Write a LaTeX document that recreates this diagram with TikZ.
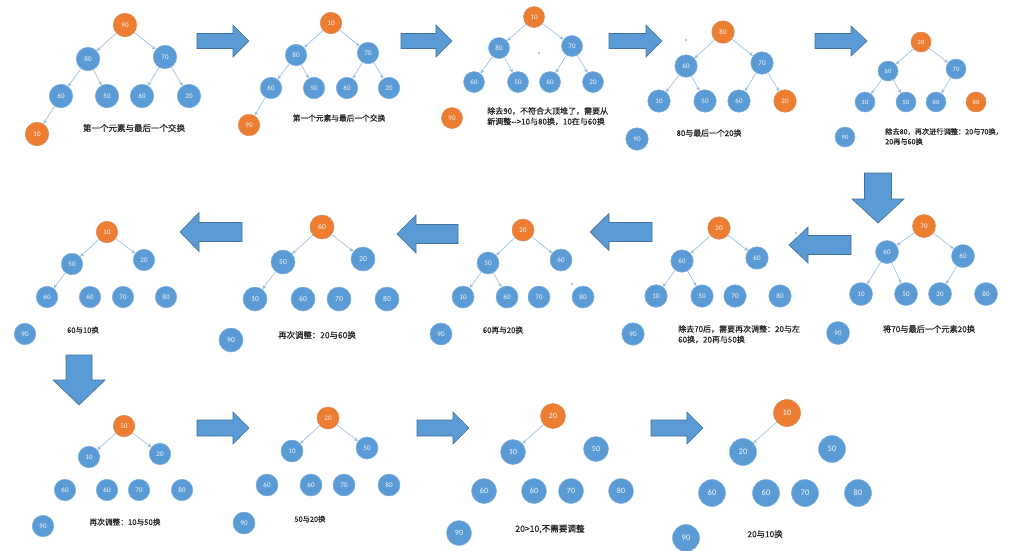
\documentclass[tikz,border=0pt]{standalone}
\usepackage{fontspec}
\newfontfamily\numf{Carlito}
\newfontfamily\cjk[FakeBold=0.8]{Noto Sans CJK SC}
\usetikzlibrary{arrows.meta}
\definecolor{nblue}{HTML}{5B9BD5}
\definecolor{nbedge}{HTML}{7FB0DE}
\definecolor{norange}{HTML}{ED7D31}
\definecolor{noedge}{HTML}{D98A5A}
\definecolor{eblue}{HTML}{94BDE5}
\definecolor{abedge}{HTML}{41719C}
\tikzset{
  nd/.style={circle, fill=nblue, draw=nbedge, line width=0.5pt, text=white!92!nblue,
    inner sep=0pt, minimum size=22pt, font=\numf\fontsize{7}{8}\selectfont},
  od/.style={nd, fill=norange, draw=noedge},
  dsz/.style={nd/.append style={minimum size=#1}},
  dfont/.style={nd/.append style={font=\numf\fontsize{#1}{#1}\selectfont}},
  ed/.style={draw=eblue, line width=0.6pt, -{Stealth[length=4pt,width=3.6pt]}},
  lbl/.style={font=\cjk\fontsize{#1}{12}\selectfont, text=black!85, inner sep=0pt},
  lbl/.default=8,
  bigarr/.style={fill=nblue, draw=abedge, line width=0.6pt},
}
\newcommand\barw[7]{%
  \draw[bigarr, shift={(#1,#2)}, rotate=#3] (0,-#6) -- ({#4-#5},-#6) -- ({#4-#5},-#7) -- (#4,0) -- ({#4-#5},#7) -- ({#4-#5},#6) -- (0,#6) -- cycle;}
\begin{document}
\begin{tikzpicture}[x=1pt,y=-1pt]
\useasboundingbox (0,0) rectangle (1024,550);
\fill[white] (0,0) rectangle (1024,550);

% ---------- block arrows ----------
\barw{197}{41}{0}{52}{16}{7.5}{16}
\barw{401}{41}{0}{51}{16}{7.5}{16}
\barw{609}{41}{0}{53}{16}{7.5}{16}
\barw{815}{41}{0}{52}{16}{7.5}{15}
\barw{878}{173}{-90}{50}{24}{13.5}{26}
\barw{851}{245}{180}{62}{19}{9.5}{18}
\barw{652}{232}{180}{62}{19}{9.5}{18.5}
\barw{458}{234}{180}{61}{19}{9.5}{19}
\barw{242}{232}{180}{62}{19}{9.5}{19.5}
\barw{79}{355}{-90}{50}{25}{13}{26}
\barw{197}{428}{0}{52}{16}{8}{16}
\barw{417}{428}{0}{52}{16}{8}{16}
\barw{651}{428}{0}{52}{16}{8}{16}

% stray dots
\fill (539,53) circle (0.7);
\fill (686,40) circle (0.7);
\fill (796,233) circle (0.7);
\fill (572,284) circle (0.7);

% ---------- panel 1 ----------
\begin{scope}[dsz=23.5pt]
\node[od] (p1a) at (125,25) {90};
\node[nd] (p1b) at (88,59) {80};
\node[nd] (p1c) at (165,57) {70};
\node[nd] (p1d) at (61,96) {60};
\node[nd] (p1e) at (107,96) {50};
\node[nd] (p1f) at (142,96) {60};
\node[nd] (p1g) at (189,96) {20};
\node[od] (p1h) at (37,134) {10};
\node[lbl=8.5] (p1t) at (134,128) {第一个元素与最后一个交换};
\foreach \u/\v in {a/b,a/c,b/d,b/e,c/f,c/g,d/h} \draw[ed] (p1\u) -- (p1\v);
\end{scope}

% ---------- panel 2 ----------
\begin{scope}[dsz=21.5pt]
\node[od] (p2a) at (331,23) {10};
\node[nd] (p2b) at (296,55) {80};
\node[nd] (p2c) at (368,53) {70};
\node[nd] (p2d) at (271,88) {60};
\node[nd] (p2e) at (314,88) {50};
\node[nd] (p2f) at (347,88) {60};
\node[nd] (p2g) at (389,88) {20};
\node[od] (p2h) at (249,125) {90};
\node[lbl=7.7] (p2t) at (339,118) {第一个元素与最后一个交换};
\foreach \u/\v in {a/b,a/c,b/d,b/e,c/f,c/g,d/h} \draw[ed] (p2\u) -- (p2\v);
\end{scope}

% ---------- panel 3 ----------
\begin{scope}[dsz=21pt]
\node[od] (p3a) at (534,17) {10};
\node[nd] (p3b) at (499,48) {80};
\node[nd] (p3c) at (572,46) {70};
\node[nd] (p3d) at (474,82) {60};
\node[nd] (p3e) at (518,82) {50};
\node[nd] (p3f) at (550,82) {60};
\node[nd] (p3g) at (593,82) {20};
\node[od] (p3h) at (452,118) {90};
\node[lbl, anchor=north west, align=left, font=\cjk\fontsize{8}{10.5}\selectfont] (p3t) at (487,107)
  {除去90，不符合大顶堆了，需要从\\新调整-->10与80换，10在与60换};
\foreach \u/\v in {a/b,a/c,b/d,b/e,c/f,c/g} \draw[ed] (p3\u) -- (p3\v);
\end{scope}

% ---------- panel 4 ----------
\begin{scope}[dsz=22.5pt]
\node[od] (p4a) at (723,32) {80};
\node[nd] (p4b) at (686,66) {60};
\node[nd] (p4c) at (762,63) {70};
\node[nd] (p4d) at (659,101) {10};
\node[nd] (p4e) at (705,101) {50};
\node[nd] (p4f) at (739,101) {60};
\node[od] (p4g) at (785,101) {20};
\node[nd] (p4h) at (637,139) {90};
\node[lbl=7.9] (p4t) at (709,133) {80与最后一个20换};
\foreach \u/\v in {a/b,a/c,b/d,b/e,c/f,c/g} \draw[ed] (p4\u) -- (p4\v);
\end{scope}

% ---------- panel 5 ----------
\begin{scope}[dsz=20pt, dfont=6.5]
\node[od] (p5a) at (921,42) {20};
\node[nd] (p5b) at (888,71) {60};
\node[nd] (p5c) at (956,69) {70};
\node[nd] (p5d) at (865,102) {10};
\node[nd] (p5e) at (906,102) {50};
\node[nd] (p5f) at (936,102) {60};
\node[od] (p5g) at (976,102) {80};
\node[nd] (p5h) at (845,137) {90};
\node[lbl, anchor=north west, align=left, font=\cjk\fontsize{7.2}{10}\selectfont] (p5t) at (885,128)
  {除去80，再次进行调整：20与70换，\\20再与60换};
\foreach \u/\v in {a/b,a/c,b/d,b/e,c/f} \draw[ed] (p5\u) -- (p5\v);
\end{scope}

% ---------- panel 6 ----------
\begin{scope}[dsz=23pt]
\node[od] (p6a) at (924,226) {70};
\node[nd] (p6b) at (887,252) {60};
\node[nd] (p6c) at (963,256) {60};
\node[nd] (p6d) at (861,294) {10};
\node[nd] (p6e) at (906,294) {50};
\node[nd] (p6f) at (940,294) {20};
\node[nd] (p6g) at (986,294) {80};
\node[nd] (p6h) at (838,333) {90};
\node[lbl=8.2] (p6t) at (929,329) {将70与最后一个元素20换};
\foreach \u/\v in {a/b,a/c,b/d,b/e,c/f} \draw[ed] (p6\u) -- (p6\v);
\end{scope}

% ---------- panel 7 ----------
\begin{scope}[dsz=22.5pt]
\node[od] (p7a) at (719,228) {20};
\node[nd] (p7b) at (682,261) {60};
\node[nd] (p7c) at (757,258) {60};
\node[nd] (p7d) at (656,296) {10};
\node[nd] (p7e) at (702,296) {50};
\node[nd] (p7f) at (735,296) {70};
\node[nd] (p7g) at (780,296) {80};
\node[nd] (p7h) at (633,334) {90};
\node[lbl, anchor=north west, align=left, font=\cjk\fontsize{8}{10.5}\selectfont] (p7t) at (678,325)
  {除去70后，需要再次调整：20与左\\60换，20再与50换};
\foreach \u/\v in {a/b,a/c,b/d,b/e} \draw[ed] (p7\u) -- (p7\v);
\end{scope}

% ---------- panel 8 ----------
\begin{scope}[dsz=22pt]
\node[od] (p8a) at (523,230) {20};
\node[nd] (p8b) at (488,263) {50};
\node[nd] (p8c) at (561,260) {60};
\node[nd] (p8d) at (463,297) {10};
\node[nd] (p8e) at (507,297) {60};
\node[nd] (p8f) at (539,297) {70};
\node[nd] (p8g) at (583,297) {80};
\node[nd] (p8h) at (441,334) {90};
\node[lbl=7.7] (p8t) at (503,330) {60再与20换};
\foreach \u/\v in {a/b,a/c,b/d,b/e} \draw[ed] (p8\u) -- (p8\v);
\end{scope}

% ---------- panel 9 ----------
\begin{scope}[dsz=24pt, dfont=7.5]
\node[od] (p9a) at (322,227) {60};
\node[nd] (p9b) at (283,262) {50};
\node[nd] (p9c) at (363,259) {20};
\node[nd] (p9d) at (255,299) {10};
\node[nd] (p9e) at (303,299) {60};
\node[nd] (p9f) at (339,299) {70};
\node[nd] (p9g) at (387,299) {80};
\node[nd] (p9h) at (231,340) {90};
\node[lbl=8.4] (p9t) at (317,335) {再次调整：20与60换};
\foreach \u/\v in {a/b,a/c,b/d} \draw[ed] (p9\u) -- (p9\v);
\end{scope}

% ---------- panel 10 ----------
\begin{scope}[dsz=21.5pt]
\node[od] (p10a) at (107,232) {10};
\node[nd] (p10b) at (72,264) {50};
\node[nd] (p10c) at (144,260) {20};
\node[nd] (p10d) at (47,297) {60};
\node[nd] (p10e) at (90,297) {60};
\node[nd] (p10f) at (123,297) {70};
\node[nd] (p10g) at (166,297) {80};
\node[nd] (p10h) at (25,334) {90};
\node[lbl=7.5] (p10t) at (83,330) {60与10换};
\foreach \u/\v in {a/b,a/c,b/d} \draw[ed] (p10\u) -- (p10\v);
\end{scope}

% ---------- panel 11 ----------
\begin{scope}[dsz=21.5pt]
\node[od] (p11a) at (124,426) {50};
\node[nd] (p11b) at (89,457) {10};
\node[nd] (p11c) at (160,454) {20};
\node[nd] (p11d) at (65,490) {60};
\node[nd] (p11e) at (107,490) {60};
\node[nd] (p11f) at (139,490) {70};
\node[nd] (p11g) at (182,490) {80};
\node[nd] (p11h) at (43,526) {90};
\node[lbl=7.7] (p11t) at (125,522) {再次调整：10与50换};
\foreach \u/\v in {a/b,a/c} \draw[ed] (p11\u) -- (p11\v);
\end{scope}

% ---------- panel 12 ----------
\begin{scope}[dsz=22pt]
\node[od] (p12a) at (328,418) {20};
\node[nd] (p12b) at (292,451) {10};
\node[nd] (p12c) at (367,448) {50};
\node[nd] (p12d) at (267,485) {60};
\node[nd] (p12e) at (311,485) {60};
\node[nd] (p12f) at (344,485) {70};
\node[nd] (p12g) at (389,485) {80};
\node[nd] (p12h) at (244,523) {90};
\node[lbl=7.3] (p12t) at (310,519) {50与20换};
\foreach \u/\v in {a/b,a/c} \draw[ed] (p12\u) -- (p12\v);
\end{scope}

% ---------- panel 13 ----------
\begin{scope}[dsz=25pt, dfont=8]
\node[od] (p13a) at (553,416) {20};
\node[nd] (p13b) at (513,452) {10};
\node[nd] (p13c) at (596,449) {50};
\node[nd] (p13d) at (484,491) {60};
\node[nd] (p13e) at (534,491) {60};
\node[nd] (p13f) at (571,491) {70};
\node[nd] (p13g) at (621,491) {80};
\node[nd] (p13h) at (459,533) {90};
\node[lbl=8.6] (p13t) at (550,529) {20>10,不需要调整};
\draw[ed] (p13a) -- (p13b);
\end{scope}

% ---------- panel 14 ----------
\begin{scope}[dsz=27pt, dfont=8.5]
\node[od] (p14a) at (787,413) {10};
\node[nd] (p14b) at (743,452) {20};
\node[nd] (p14c) at (832,449) {50};
\node[nd] (p14d) at (712,493) {60};
\node[nd] (p14e) at (766,493) {60};
\node[nd] (p14f) at (805,493) {70};
\node[nd] (p14g) at (858,493) {80};
\node[nd] (p14h) at (686,538) {90};
\node[lbl=8.3] (p14t) at (765,534) {20与10换};
\draw[ed] (p14a) -- (p14b);
\end{scope}
\end{tikzpicture}
\end{document}
